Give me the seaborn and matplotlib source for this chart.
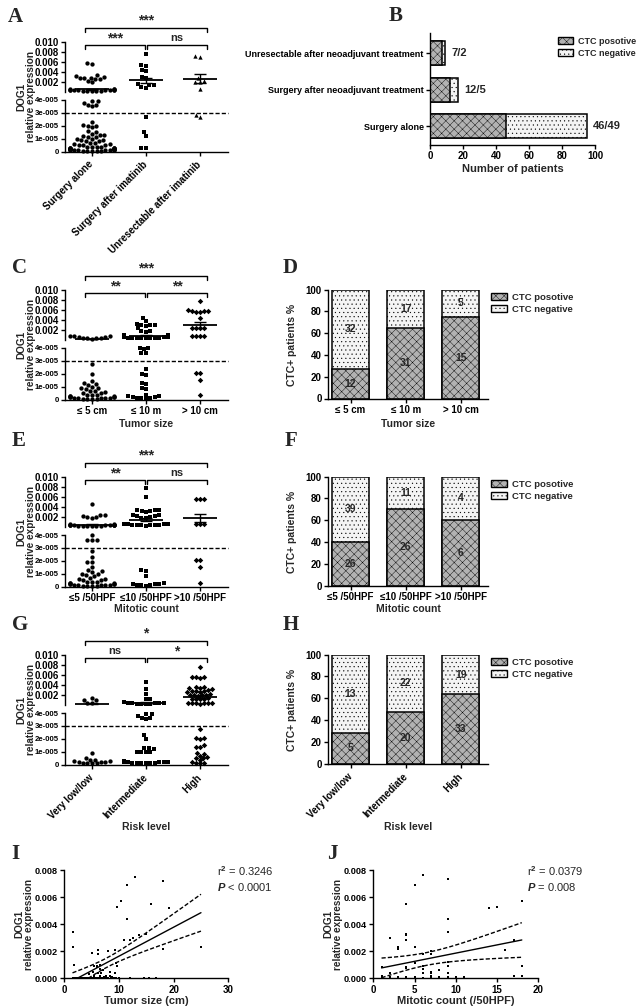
import numpy as np
import pandas as pd
import seaborn as sns
import matplotlib.pyplot as plt
from matplotlib.patches import Patch
from matplotlib.transforms import blended_transform_factory

W, H = 640, 1008
BREAK = 4.2e-5

# ---- A: DOG1 by treatment group
A_groups = ['Surgery alone', 'Surgery after imatinib', 'Unresectable after imatinib']
A_alone = [0.0057, 0.0056, 0.0033, 0.0031, 0.0030, 0.0028, 0.0027, 0.0027, 0.0026, 0.0025, 0.0021, 0.0019,
           0.0006, 0.0005, 0.0005, 0.0004, 0.0004, 0.0004, 0.0003, 0.0003, 0.0003, 0.0003, 0.0003, 0.0002,
           0.0002, 0.0002, 0.0002, 0.0001,
           3.9e-5, 3.9e-5, 3.8e-5, 3.6e-5, 3.6e-5, 3.5e-5, 2.3e-5, 2.1e-5, 2.0e-5, 2.0e-5, 1.9e-5, 1.6e-5,
           1.5e-5, 1.4e-5, 1.3e-5, 1.3e-5, 1.2e-5, 1.1e-5, 1.1e-5, 1.0e-5, 1.0e-5, 0.9e-5, 0.9e-5, 0.8e-5,
           0.8e-5, 0.7e-5, 0.7e-5, 0.6e-5, 0.6e-5, 0.5e-5, 0.5e-5, 0.5e-5, 0.4e-5, 0.4e-5, 0.4e-5, 0.4e-5,
           0.3e-5, 0.3e-5, 0.3e-5, 0.3e-5, 0.3e-5, 0.3e-5, 0.2e-5, 0.2e-5, 0.2e-5, 0.2e-5, 0.2e-5, 0.2e-5,
           0.2e-5, 0.1e-5, 0.1e-5, 0.1e-5, 0.1e-5, 0.1e-5, 0.1e-5, 0.1e-5, 0.1e-5, 0.05e-5, 0.05e-5,
           0.05e-5, 0.05e-5, 0.05e-5]
A_after = [0.0076, 0.0053, 0.0052, 0.0044, 0.0042, 0.0029, 0.0027, 0.0015, 0.0014, 0.0014, 0.0009, 0.0008,
           2.7e-5, 1.5e-5, 1.2e-5, 0.3e-5, 0.3e-5]
A_unres = [0.0070, 0.0071, 0.0027, 0.0021, 0.0020, 0.0019, 0.0005, 2.7e-5, 2.85e-5]

# ---- B: CTC status by treatment
B_groups = ['Unresectable after neoadjuvant treatment', 'Surgery after neoadjuvant treatment', 'Surgery alone']
B_pos = [7, 12, 46]
B_neg = [2, 5, 49]

# ---- C / D: tumor size
C_groups = ['\u2264 5 cm', '\u2264 10 m', '> 10 cm']
C_le5 = [0.0008, 0.0007, 0.0007, 0.0006, 0.0005, 0.0004, 0.0004, 0.0003, 0.0003, 0.0002,
         2.8e-5, 1.95e-5, 1.45e-5, 1.3e-5, 1.2e-5, 1.1e-5, 1.0e-5, 0.9e-5, 0.9e-5, 0.8e-5, 0.7e-5,
         0.7e-5, 0.6e-5, 0.5e-5, 0.5e-5, 0.4e-5, 0.4e-5, 0.4e-5, 0.3e-5, 0.3e-5, 0.3e-5, 0.2e-5,
         0.2e-5, 0.2e-5, 0.2e-5, 0.1e-5, 0.1e-5, 0.1e-5, 0.1e-5, 0.1e-5, 0.05e-5, 0.05e-5, 0.05e-5, 0.05e-5]
C_le10 = [0.0043, 0.0037, 0.0032, 0.0029, 0.0029, 0.0029, 0.0028, 0.0023, 0.0017, 0.0017, 0.0016, 0.0010,
          0.0010, 0.0009, 0.0009, 0.0005, 0.0005, 0.0005, 0.0005, 0.0004, 0.0004, 0.0004, 0.0004, 0.0004,
          0.0003, 0.0003, 0.0003,
          4.0e-5, 4.0e-5, 3.9e-5, 3.6e-5, 3.6e-5, 2.4e-5, 2.0e-5, 1.9e-5, 1.3e-5, 1.2e-5, 0.9e-5, 0.8e-5,
          0.4e-5, 0.3e-5, 0.3e-5, 0.2e-5, 0.2e-5, 0.1e-5, 0.1e-5, 0.1e-5, 0.05e-5]
C_gt10 = [0.0077, 0.0059, 0.0058, 0.0058, 0.0057, 0.0056, 0.0056, 0.0044, 0.0023, 0.0023, 0.0023, 0.0023,
          0.0007, 0.0007, 0.0007, 0.0007, 2.1e-5, 2.1e-5, 1.5e-5, 0.4e-5]
D_pos = [12, 31, 15]
D_neg = [32, 17, 5]

# ---- E / F: mitotic count
E_groups = ['\u22645 /50HPF', '\u226410 /50HPF', '>10 /50HPF']
E_le5 = [0.0045, 0.0024, 0.0023, 0.0022, 0.0019, 0.0019, 0.0018,
         0.0005, 0.0005, 0.0004, 0.0004, 0.0004, 0.0004, 0.0003, 0.0003, 0.0003, 0.0003, 0.0003, 0.0003,
         0.0002, 0.0002, 0.0002, 0.0002, 0.0001, 0.0001,
         4.0e-5, 3.6e-5, 3.6e-5, 3.6e-5, 2.8e-5, 2.3e-5, 1.9e-5, 1.9e-5, 1.5e-5, 1.3e-5, 1.2e-5, 1.1e-5,
         1.0e-5, 1.0e-5, 0.9e-5, 0.8e-5, 0.7e-5, 0.6e-5, 0.6e-5, 0.5e-5, 0.5e-5, 0.4e-5, 0.4e-5, 0.4e-5,
         0.3e-5, 0.3e-5, 0.3e-5, 0.2e-5, 0.2e-5, 0.2e-5, 0.2e-5, 0.1e-5, 0.1e-5, 0.1e-5, 0.1e-5, 0.1e-5,
         0.05e-5, 0.05e-5, 0.05e-5, 0.05e-5]
E_le10 = [0.0078, 0.0059, 0.0034, 0.0033, 0.0033, 0.0032, 0.0032, 0.0030, 0.0024, 0.0023, 0.0022, 0.0022,
          0.0019, 0.0018, 0.0017, 0.0006, 0.0006, 0.0005, 0.0005, 0.0004, 0.0004, 0.0004, 0.0003, 0.0003,
          0.0003, 0.0002,
          1.3e-5, 1.25e-5, 0.85e-5, 0.3e-5, 0.2e-5, 0.2e-5, 0.2e-5, 0.15e-5, 0.1e-5, 0.1e-5, 0.05e-5]
E_gt10 = [0.0056, 0.0055, 0.0055, 0.0006, 0.0005, 0.0005, 2.1e-5, 2.1e-5, 1.5e-5, 0.3e-5]
F_pos = [26, 26, 6]
F_neg = [39, 11, 4]

# ---- G / H: risk level
G_groups = ['Very low/low', 'Intermediate', 'High']
G_low = [0.0013, 0.0010, 0.0009, 0.0004, 0.0004, 0.9e-5, 0.5e-5, 0.4e-5, 0.4e-5, 0.3e-5, 0.3e-5,
         0.2e-5, 0.2e-5, 0.2e-5, 0.1e-5, 0.1e-5, 0.1e-5, 0.1e-5]
G_int = [0.0045, 0.0032, 0.0021, 0.0012, 0.0011, 0.0005, 0.0004, 0.0004, 0.0003, 0.0003, 0.0003, 0.0002,
         0.0002, 0.0002, 0.0001,
         3.9e-5, 3.9e-5, 3.8e-5, 3.6e-5, 3.6e-5, 3.5e-5, 2.3e-5, 2.0e-5, 1.3e-5, 1.3e-5, 1.2e-5, 1.0e-5,
         1.0e-5, 1.0e-5, 1.0e-5, 0.3e-5, 0.2e-5, 0.2e-5, 0.2e-5, 0.2e-5, 0.2e-5, 0.15e-5, 0.15e-5,
         0.1e-5, 0.1e-5, 0.1e-5, 0.1e-5]
G_high = [0.0075, 0.0056, 0.0055, 0.0055, 0.0054, 0.0036, 0.0035, 0.0034, 0.0033, 0.0032, 0.0029, 0.0028,
          0.0027, 0.0027, 0.0026, 0.0025, 0.0021, 0.0020, 0.0020, 0.0019, 0.0019, 0.0018, 0.0013, 0.0012,
          0.0012, 0.0011, 0.0011, 0.0004, 0.0004, 0.0003, 0.0003, 0.0003, 0.0003, 0.0002,
          2.8e-5, 2.1e-5, 2.1e-5, 2.0e-5, 1.5e-5, 1.4e-5, 1.4e-5, 0.9e-5, 0.8e-5, 0.7e-5, 0.6e-5, 0.5e-5,
          0.5e-5, 0.4e-5, 0.2e-5, 0.15e-5, 0.15e-5, 0.1e-5]
H_pos = [5, 20, 33]
H_neg = [13, 22, 19]

# ---- I: tumor size vs DOG1
I_size = [1.5, 1.5, 1.8, 5.0, 6.2, 6.2, 8.0, 9.3, 9.6, 10.4, 11.4, 11.4, 12.9, 15.8, 18.0, 19.2,
          10.9, 12.0, 12.6, 13.7, 14.9, 18.0, 25.0,
          5.4, 5.9, 6.5, 6.5, 5.3, 6.2, 6.8, 7.7, 8.4, 9.6, 9.5, 9.3, 8.4, 6.0, 7.0, 4.5, 5.5, 6.6, 7.3, 8.8,
          1.5, 2.0, 2.5, 2.8, 3.0, 3.2, 3.5, 4.0, 4.3, 4.8, 5.2, 5.6, 6.0, 6.4, 7.0, 7.5, 8.0, 8.5, 9.0,
          9.5, 10.0, 12.0, 14.5, 15.5, 16.8,
          2.2, 2.6, 3.0, 3.3, 3.6, 3.9, 4.2, 4.6, 5.0, 5.4, 5.8, 6.3, 6.8, 7.2, 7.8]
I_dog1 = [0.0034, 0.0023, 0.0010, 0.0019, 0.0021, 0.0018, 0.0020, 0.0021, 0.0053, 0.0057, 0.0069, 0.0044,
          0.0075, 0.0055, 0.0072, 0.0052, 0.0028, 0.0028, 0.0030, 0.0032, 0.0033, 0.0022, 0.0023,
          0.0009, 0.0009, 0.0010, 0.0007, 0.0005, 0.0004, 0.0004, 0.0002, 0.0005, 0.0009, 0.0011, 0.0004,
          0.0002, 0.0008, 0.0006, 0.0003, 0.0002, 0.0002, 0.0001, 0.0001,
          0.00002, 0.00002, 0.00002, 0.00002, 0.00002, 0.00002, 0.00002, 0.00002, 0.00002, 0.00002,
          0.00002, 0.00002, 0.00002, 0.00002, 0.00002, 0.00002, 0.00002, 0.00002, 0.00002, 0.00002,
          0.00002, 0.00002, 0.00002, 0.00002, 0.00002,
          0.00003, 0.00003, 0.00003, 0.00003, 0.00003, 0.00003, 0.00003, 0.00003, 0.00003, 0.00003,
          0.00003, 0.00003, 0.00003, 0.00003, 0.00003]

# ---- J: mitotic count vs DOG1
J_mit = [1, 1, 1, 2, 2, 2, 3, 3, 3, 3, 4, 4, 4, 4, 4, 4, 4, 5, 5, 5, 5, 6, 6, 6, 6, 6, 7, 7, 7, 7, 7,
         8, 8, 9, 9, 9, 9, 9, 9, 9, 10, 11, 14, 15, 16, 17, 17, 18, 18, 18, 2, 5, 6, 7, 8,
         1, 1, 1, 2, 2, 2, 3, 3, 4, 4, 5]
J_dog1 = [0.00086, 0.0002, 0.0001, 0.0030, 0.0004, 0.0001, 0.0023, 0.0022, 0.0001, 0.00002, 0.0055, 0.0033,
          0.0032, 0.0028, 0.00085, 0.00075, 0.0001, 0.0069, 0.0023, 0.0011, 0.0001, 0.0076, 0.0018, 0.0009,
          0.0007, 0.0004, 0.0020, 0.0018, 0.0005, 0.0004, 0.0002, 0.0006, 0.0001, 0.0073, 0.0044, 0.0034,
          0.0012, 0.0009, 0.0004, 0.0001, 0.0001, 0.0001, 0.0052, 0.0053, 0.0021, 0.0028, 0.0002, 0.0057,
          0.0009, 0.0002, 0.00002, 0.00002, 0.00002, 0.0001, 0.00002,
          0.00003, 0.00005, 0.00002, 0.00003, 0.00005, 0.00002, 0.00003, 0.00002, 0.00003, 0.00002, 0.00003]

POS_COL = '#b2b2b2'
NEG_COL = '#f4f4f4'

sns.set_style('ticks')
plt.rcParams['font.family'] = ['Liberation Sans', 'DejaVu Sans']
plt.rcParams.update({
    'font.weight': 'bold', 'axes.labelweight': 'bold', 'axes.edgecolor': 'black',
    'axes.linewidth': 1.0, 'xtick.color': 'black', 'ytick.color': 'black',
    'xtick.major.size': 3, 'ytick.major.size': 3, 'xtick.major.width': 1, 'ytick.major.width': 1,
    'xtick.labelsize': 7, 'ytick.labelsize': 7, 'xtick.major.pad': 1.5, 'ytick.major.pad': 1.5,
    'hatch.linewidth': 0.3, 'mathtext.fontset': 'custom', 'mathtext.rm': 'Liberation Sans',
    'mathtext.it': 'Liberation Sans:italic',
})

fig = plt.figure(figsize=(W / 100, H / 100), dpi=100)


def add_ax(left, top, right, bottom):
    return fig.add_axes([left / W, 1 - bottom / H, (right - left) / W, (bottom - top) / H])


def ftext(x, y, s, **kw):
    fig.text(x / W, 1 - y / H, s, **kw)


def bracket(ax, x0, x1, y, drop, label, ty, fs):
    tr = blended_transform_factory(ax.transData, ax.transAxes)
    ax.plot([x0, x0, x1, x1], [y - drop, y, y, y - drop], color='black', lw=1,
            transform=tr, clip_on=False)
    ax.text((x0 + x1) / 2, ty, label, transform=tr, ha='center', va='center',
            fontsize=fs, fontweight='bold')


def dot_panel(dy, groups, data, markers, ticklabels, rotate, xlabel, stars):
    up = add_ax(65, 41.7 + dy, 228, 91.7 + dy)
    lo = add_ax(65, 100 + dy, 228, 151.7 + dy)
    for i, (g, vals, mk) in enumerate(zip(groups, data, markers)):
        v = np.asarray(vals)
        for ax, part in ((up, v[v > BREAK]), (lo, v[v <= BREAK])):
            df = pd.DataFrame({'group': [g] * len(part), 'value': part})
            sns.swarmplot(data=df, x='group', y='value', order=groups, ax=ax, color='black',
                          marker=mk, size=2.8 if mk == 'D' else 3.1, warn_thresh=1, clip_on=False)
        m, se = v.mean(), v.std(ddof=1) / np.sqrt(len(v))
        up.hlines(m, i - 0.32, i + 0.32, color='black', lw=1.3)
        up.errorbar(i, m, yerr=se, fmt='none', ecolor='black', elinewidth=1, capsize=4.5, capthick=1)

    for ax in (up, lo):
        ax.set_xlim(-0.5, 2.52)
        ax.set_xlabel('')
        ax.set_ylabel('')
        sns.despine(ax=ax)
    up.set_ylim(0, 0.010)
    up.set_yticks([0.002, 0.004, 0.006, 0.008, 0.010])
    up.set_yticklabels(['0.002', '0.004', '0.006', '0.008', '0.010'])
    up.spines['bottom'].set_visible(False)
    up.tick_params(axis='x', bottom=False, labelbottom=False)

    lo.set_ylim(0, 4e-5)
    lo.set_yticks([0, 1e-5, 2e-5, 3e-5, 4e-5])
    lo.set_yticklabels(['0', '1e-005', '2e-005', '3e-005', '4e-005'], fontsize=5.6)
    lo.axhline(3e-5, color='black', lw=1, ls=(0, (3, 1.5)), clip_on=False)
    lo.set_xticks(range(len(groups)))
    if rotate:
        lo.set_xticklabels(ticklabels, rotation=45, ha='right', va='center', rotation_mode='anchor')
        lo.tick_params(axis='x', pad=5)
    else:
        lo.set_xticklabels(ticklabels)

    ftext(26, 96.7 + dy, 'DOG1\nrelative expression', rotation=90, ha='center', va='center',
          fontsize=7.2, fontweight='bold', linespacing=1.0)
    if xlabel:
        ftext(146, xlabel[1], xlabel[0], ha='center', va='center', fontsize=7.5, fontweight='bold')

    bracket(up, -0.13, 2.13, 1.268, 0.068, stars[0], 1.43, 10)
    bracket(up, -0.13, 0.98, 0.934, 0.08, stars[1], 1.07, 10 if '*' in stars[1] else 8)
    bracket(up, 1.02, 2.13, 0.934, 0.08, stars[2], 1.07, 10 if '*' in stars[2] else 8)


def legend_handles():
    return [Patch(facecolor=POS_COL, edgecolor='black', hatch='xxxx', lw=1, label='CTC posotive'),
            Patch(facecolor=NEG_COL, edgecolor='black', hatch='....', lw=1, label='CTC negative')]


def stack_panel(dy, cats, pos, neg, rotate, xlabel):
    ax = add_ax(328, 41.7 + dy, 488, 150.5 + dy)
    pos, neg = np.asarray(pos), np.asarray(neg)
    tot = pos + neg
    df = pd.DataFrame({'cat': cats, 'full': tot / tot * 100, 'pos': pos / tot * 100})
    sns.barplot(data=df, x='cat', y='full', order=cats, color=NEG_COL, saturation=1, width=0.67,
                edgecolor='black', linewidth=1.1, hatch='....', ax=ax)
    sns.barplot(data=df, x='cat', y='pos', order=cats, color=POS_COL, saturation=1, width=0.67,
                edgecolor='black', linewidth=1.1, hatch='xxxx', ax=ax)
    for i, (p, n, pp) in enumerate(zip(pos, neg, df['pos'])):
        ax.text(i, pp / 2, str(p), ha='center', va='center', fontsize=7.5, fontweight='bold', zorder=5)
        ax.text(i, pp + (100 - pp) / 2, str(n), ha='center', va='center', fontsize=7.5,
                fontweight='bold', zorder=5)
    ax.set_xlim(-0.41, 2.49)
    ax.set_ylim(0, 100)
    ax.set_yticks([0, 20, 40, 60, 80, 100])
    ax.set_xlabel('')
    ax.set_ylabel('')
    sns.despine(ax=ax)
    if rotate:
        ax.set_xticks(range(3))
        ax.set_xticklabels(cats, rotation=45, ha='right', va='center', rotation_mode='anchor')
        ax.tick_params(axis='x', pad=5)
    ftext(292, 96.7 + dy, 'CTC+ patients %', rotation=90, ha='center', va='center',
          fontsize=7.5, fontweight='bold')
    ftext(408, xlabel[1], xlabel[0], ha='center', va='center', fontsize=7.5, fontweight='bold')
    ax.legend(handles=legend_handles(), loc='upper left', bbox_to_anchor=(1.02, 0.97), frameon=False,
              fontsize=6.8, handlelength=1.7, handleheight=0.8, handletextpad=0.5, labelspacing=0.3,
              borderaxespad=0, borderpad=0)


def reg_panel(left, right, x, y, xmax, xticks, xlabel, r2, ptxt):
    ax = add_ax(left, 870, right, 978.3)
    sns.scatterplot(x=x, y=y, ax=ax, color='black', marker='s', s=4, linewidth=0)
    sns.regplot(x=x, y=y, ax=ax, scatter=False, ci=None, truncate=True, color='black',
                line_kws={'lw': 1})
    xa, ya = np.asarray(x, float), np.asarray(y, float)
    b, a = np.polyfit(xa, ya, 1)
    xs = np.linspace(xa.min(), xa.max(), 200)
    s = np.sqrt(((ya - (a + b * xa)) ** 2).sum() / (len(xa) - 2))
    band = 1.98 * s * np.sqrt(1 / len(xa) + (xs - xa.mean()) ** 2 / ((xa - xa.mean()) ** 2).sum())
    for sign in (1, -1):
        ax.plot(xs, a + b * xs + sign * band, color='black', lw=1, ls=(0, (3, 1.5)))
    ax.set_xlim(0, xmax)
    ax.set_ylim(0, 0.008)
    ax.set_xticks(xticks)
    ax.set_yticks([0, 0.002, 0.004, 0.006, 0.008])
    ax.set_yticklabels(['0.000', '0.002', '0.004', '0.006', '0.008'], fontsize=6.6)
    sns.despine(ax=ax)
    ax.set_xlabel(xlabel, fontsize=8, fontweight='bold', labelpad=1)
    ftext(left - 40, 924, 'DOG1\nrelative expression', rotation=90, ha='center', va='center',
          fontsize=7.2, fontweight='bold', linespacing=1.0)
    ftext(right - 11, 871, r2, ha='left', va='center', fontsize=8, fontweight='normal')
    ftext(right - 11, 887, ptxt, ha='left', va='center', fontsize=8, fontweight='normal')


# A
dot_panel(0, A_groups, [A_alone, A_after, A_unres], ['o', 's', '^'], A_groups, True, None,
          ['***', '***', 'ns'])
# B
axb = add_ax(430, 33, 595, 145)
bp, bn = np.asarray(B_pos), np.asarray(B_neg)
dfb = pd.DataFrame({'cat': B_groups, 'total': bp + bn, 'pos': bp})
sns.barplot(data=dfb, y='cat', x='total', order=B_groups, orient='h', color=NEG_COL, saturation=1,
            width=0.66, edgecolor='black', linewidth=1.1, hatch='....', ax=axb)
sns.barplot(data=dfb, y='cat', x='pos', order=B_groups, orient='h', color=POS_COL, saturation=1,
            width=0.66, edgecolor='black', linewidth=1.1, hatch='xxxx', ax=axb)
for i, (p, n) in enumerate(zip(bp, bn)):
    axb.text(p + n + 4, i, f'{p}/{n}', ha='left', va='center', fontsize=8, fontweight='bold')
axb.set_xlim(0, 100)
axb.set_ylim(2.52, -0.55)
axb.set_xticks([0, 20, 40, 60, 80, 100])
axb.tick_params(axis='y', labelsize=6.5)
axb.set_ylabel('')
axb.set_xlabel('Number of patients', fontsize=8, fontweight='bold', labelpad=2)
sns.despine(ax=axb)
fig.legend(handles=legend_handles(), loc='upper left', bbox_to_anchor=(558 / W, 1 - 37 / H),
           frameon=False, fontsize=6.5, handlelength=1.7, handleheight=0.8, handletextpad=0.5,
           labelspacing=0.3, borderaxespad=0, borderpad=0)

# C, D
dot_panel(248, C_groups, [C_le5, C_le10, C_gt10], ['o', 's', 'D'], C_groups, False,
          ('Tumor size', 424), ['***', '**', '**'])
stack_panel(248, C_groups, D_pos, D_neg, False, ('Tumor size', 424))
# E, F
dot_panel(435, E_groups, [E_le5, E_le10, E_gt10], ['o', 's', 'D'], E_groups, False,
          ('Mitotic count', 609), ['***', '**', 'ns'])
stack_panel(435, E_groups, F_pos, F_neg, False, ('Mitotic count', 609))
# G, H
dot_panel(613, G_groups, [G_low, G_int, G_high], ['o', 's', 'D'], G_groups, True,
          ('Risk level', 826.5), ['*', 'ns', '*'])
stack_panel(613, G_groups, H_pos, H_neg, True, ('Risk level', 826.5))
# I, J
reg_panel(64.3, 228.3, I_size, I_dog1, 30, [0, 10, 20, 30], 'Tumor size (cm)',
          r'r$^{2}$ = 0.3246', r'$P$ < 0.0001')
reg_panel(373.3, 538.3, J_mit, J_dog1, 20, [0, 5, 10, 15, 20], 'Mitotic count (/50HPF)',
          r'r$^{2}$ = 0.0379', r'$P$ = 0.008')

for letter, x, y in [('A', 8, 17), ('B', 389, 16), ('C', 12, 268), ('D', 283, 268), ('E', 12, 441),
                     ('F', 285, 441), ('G', 12, 625), ('H', 283, 625), ('I', 11, 854), ('J', 327, 854)]:
    ftext(x, y, letter, ha='left', va='center', fontsize=15, fontweight='bold',
          family=['Liberation Serif', 'DejaVu Serif'])

fig.savefig('out.png', dpi=100)
